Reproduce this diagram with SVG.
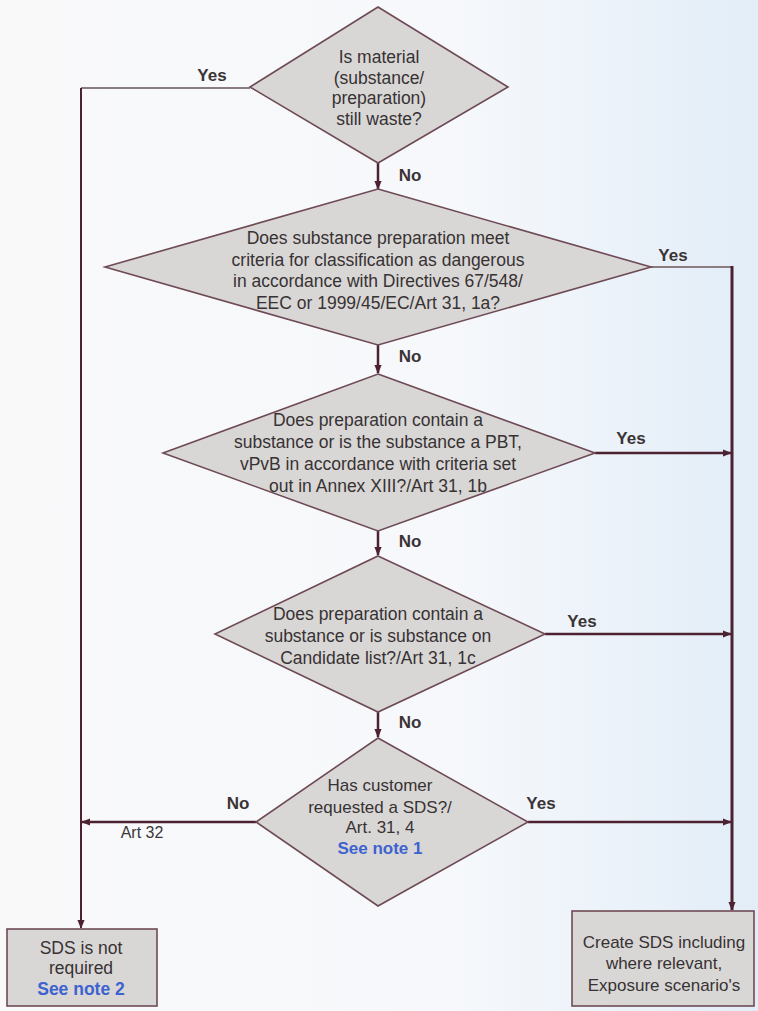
<svg xmlns="http://www.w3.org/2000/svg" width="758" height="1011" viewBox="0 0 758 1011">
<defs>
<linearGradient id="bg" x1="0" y1="0" x2="1" y2="0">
<stop offset="0" stop-color="#f9f9fa"/>
<stop offset="0.6" stop-color="#f6f8fb"/>
<stop offset="1" stop-color="#e2edf8"/>
</linearGradient>
<marker id="arr" viewBox="0 0 10 8" refX="9" refY="4" markerWidth="9" markerHeight="8" markerUnits="userSpaceOnUse" orient="auto">
<path d="M0,0 L10,4 L0,8 z" fill="#4d2230"/>
</marker>
<style>
.shape{fill:#d9d7d6;stroke:#6e4a55;stroke-width:1.6}
.t{font-family:"Liberation Sans",Arial,sans-serif;font-size:17.5px;fill:#373233;text-anchor:middle}
.ts{font-size:17px}
.note{font-weight:bold;fill:#3d63cf}
.lbl{font-family:"Liberation Sans",Arial,sans-serif;font-size:17px;font-weight:bold;fill:#3b3436;text-anchor:middle}
.small{font-family:"Liberation Sans",Arial,sans-serif;font-size:16px;fill:#3b3637;text-anchor:middle}
.c{fill:none;stroke:#4d2230;stroke-width:2.5}
.thin{stroke-width:2}
.grey{stroke:#8a7c80;stroke-width:2}
.thick{stroke-width:3}
</style>
</defs>
<rect x="0" y="0" width="758" height="1011" fill="url(#bg)"/>

<g id="connectors">
<path class="c grey" d="M250,88 H81"/>
<path class="c thin" d="M81,88 V928" marker-end="url(#arr)"/>
<path class="c" d="M378,163 V189" marker-end="url(#arr)"/>
<path class="c" d="M378,345 V373" marker-end="url(#arr)"/>
<path class="c" d="M378,531 V555" marker-end="url(#arr)"/>
<path class="c" d="M378,712 V737" marker-end="url(#arr)"/>
<path class="c grey" d="M651,267 H732"/>
<path class="c thick" d="M732,266 V910" marker-end="url(#arr)"/>
<path class="c" d="M595,453 H731" marker-end="url(#arr)"/>
<path class="c" d="M545,634 H731" marker-end="url(#arr)"/>
<path class="c" d="M528,822 H731" marker-end="url(#arr)"/>
<path class="c" d="M256,822 H82" marker-end="url(#arr)"/>
<text class="lbl" x="212" y="81">Yes</text>
<text class="lbl" x="410" y="181">No</text>
<text class="lbl" x="673" y="261">Yes</text>
<text class="lbl" x="410" y="362">No</text>
<text class="lbl" x="631" y="444">Yes</text>
<text class="lbl" x="410" y="547">No</text>
<text class="lbl" x="582" y="627">Yes</text>
<text class="lbl" x="410" y="728">No</text>
<text class="lbl" x="541" y="809">Yes</text>
<text class="lbl" x="238" y="809">No</text>
<text class="small" x="142" y="838">Art 32</text>
</g>

<g id="q1">
<polygon class="shape" points="378,7 508,87 378,163 250,87"/>
<text class="t" x="379" y="63">Is material</text>
<text class="t" x="379" y="84">(substance/</text>
<text class="t" x="379" y="104">preparation)</text>
<text class="t" x="379" y="125">still waste?</text>
</g>

<g id="q2">
<polygon class="shape" points="378,189 651,267 378,345 105,267"/>
<text class="t" x="378" y="244">Does substance preparation meet</text>
<text class="t" x="378" y="266">criteria for classification as dangerous</text>
<text class="t" x="378" y="287">in accordance with Directives 67/548/</text>
<text class="t" x="378" y="309">EEC or 1999/45/EC/Art 31, 1a?</text>
</g>

<g id="q3">
<polygon class="shape" points="378,374 595,453 378,531 163,453"/>
<text class="t" x="378" y="426">Does preparation contain a</text>
<text class="t" x="378" y="448">substance or is the substance a PBT,</text>
<text class="t" x="378" y="470">vPvB in accordance with criteria set</text>
<text class="t" x="378" y="492">out in Annex XIII?/Art 31, 1b</text>
</g>

<g id="q4">
<polygon class="shape" points="378,556 545,634 378,712 215,634"/>
<text class="t" x="378" y="620">Does preparation contain a</text>
<text class="t" x="378" y="642">substance or is substance on</text>
<text class="t" x="378" y="664">Candidate list?/Art 31, 1c</text>
</g>

<g id="q5">
<polygon class="shape" points="378,738 528,822 378,906 256,822"/>
<text class="t ts" x="380" y="791">Has customer</text>
<text class="t ts" x="380" y="813">requested a SDS?/</text>
<text class="t ts" x="380" y="833">Art. 31, 4</text>
<text class="t ts note" x="380" y="854">See note 1</text>
</g>

<g id="not-required">
<rect class="shape" x="7" y="929" width="150" height="77"/>
<text class="t" x="81" y="954">SDS is not</text>
<text class="t" x="81" y="974">required</text>
<text class="t note" x="81" y="995">See note 2</text>
</g>

<g id="create-sds">
<rect class="shape" x="572" y="911" width="182" height="95"/>
<text class="t ts" x="664" y="948">Create SDS including</text>
<text class="t ts" x="664" y="969">where relevant,</text>
<text class="t ts" x="664" y="991">Exposure scenario's</text>
</g>
</svg>
